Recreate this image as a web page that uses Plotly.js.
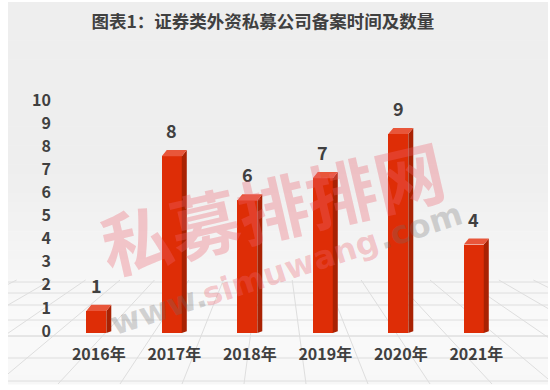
<!DOCTYPE html>
<html><head><meta charset="utf-8">
<script src="https://cdn.plot.ly/plotly-3.0.1.min.js"></script>
<style>html,body{margin:0;padding:0;background:#fff}#c{width:550px;height:390px}</style>
</head><body><div id="c"></div>
<script>
const categories = ["2016年","2017年","2018年","2019年","2020年","2021年"];
const counts = [1, 8, 6, 7, 9, 4];
const yTicks = [0,1,2,3,4,5,6,7,8,9,10];
const titleText = "图表1：证券类外资私募公司备案时间及数量";

const idx = categories.map((_, i) => i);
const W = 0.265, L = -0.165, DX = 0.066, DY = 0.28;
// side and top faces of pseudo-3D bars, computed from data
const sx = [], sy = [], tx = [], ty = [];
idx.forEach((i) => {
  const v = counts[i], r = i + L + W;
  sx.push(r, r + DX, r + DX, r, r, null);
  sy.push(0, DY * 0.3, v + DY, v, 0, null);
  tx.push(i + L, r, r + DX, i + L + DX, i + L, null);
  ty.push(v, v, v + DY, v + DY, v, null);
});

const traces = [
  {type:'bar', x: idx, y: counts, width: W, offset: L, marker:{color:'#de2d06'}, hoverinfo:'skip', showlegend:false},
  {type:'scatter', x: sx, y: sy, mode:'lines', fill:'toself', fillcolor:'#a92203', line:{width:0, color:'#a92203'}, hoverinfo:'skip', showlegend:false},
  {type:'scatter', x: tx, y: ty, mode:'lines', fill:'toself', fillcolor:'#e8563a', line:{width:0, color:'#e8563a'}, hoverinfo:'skip', showlegend:false},
  {type:'scatter', x: [null], y: [null], yaxis:'y2', mode:'markers', hoverinfo:'skip', showlegend:false}
];

const font = 'Noto Sans CJK SC, Noto Sans, sans-serif';
const labels = idx.map(i => ({x: i - 0.03, y: counts[i], xref:'x', yref:'y', text: String(counts[i]), showarrow:false,
  yanchor:'middle', yshift: 26, font:{family:font, size:18, color:'#404040', weight:'bold'}}));

// pixel -> paper helpers for decoration
const PL = 61, PW = 453, PB = 333, PH = 234;
const px = v => (v - PL) / PW, py = v => (PB - v) / PH;

const wmPink = 'rgba(236,100,112,0.33)', wmGray = 'rgba(110,110,110,0.28)';
const wmA = {xanchor:'center', yanchor:'middle', showarrow:false, xref:'paper', yref:'paper'};
const wm = [
  Object.assign({x:px(272), y:py(205), text:'私募排排网', textangle:-13,
   font:{family:font, size:70, color:wmPink, weight:'bold'}}, wmA),
  Object.assign({x:px(158), y:py(310), text:'www.', textangle:-18,
   font:{family:'DejaVu Sans, sans-serif', size:32, color:wmGray, weight:'bold'}}, wmA),
  Object.assign({x:px(290), y:py(268), text:'simuwang', textangle:-18,
   font:{family:'DejaVu Sans, sans-serif', size:32, color:wmPink, weight:'bold'}}, wmA),
  Object.assign({x:px(420), y:py(226), text:'.com', textangle:-18,
   font:{family:'DejaVu Sans, sans-serif', size:32, color:wmGray, weight:'bold'}}, wmA)
];

const shapes = [];
// background bands (light gray, brighter toward the floor)
const X0 = 8, X1 = 548, Y0 = 2, Y1 = 384, N = 40;
for (let k = 0; k < N; k++) {
  const a = Y0 + (Y1 - Y0) * k / N, b = Y0 + (Y1 - Y0) * (k + 1) / N, m = (a + b) / 2;
  let g = m < 170 ? 238 : (m < 330 ? 238 + 12 * (m - 170) / 160 : 250 - 3 * (m - 330) / 54);
  g = Math.round(g);
  shapes.push({type:'rect', xref:'paper', yref:'paper', x0:px(X0), x1:px(X1), y0:py(b + 0.5), y1:py(a),
    fillcolor:`rgb(${g},${g},${g})`, line:{width:0}, layer:'below'});
}
// floor grid: horizontal lines
[282, 293, 305, 320, 336, 358, 381].forEach(y => shapes.push({type:'line', xref:'paper', yref:'paper',
  x0:px(X0), x1:px(X1), y0:py(y), y1:py(y), line:{color: y === 336 ? '#d2d2d2' : '#dedede', width:1}, layer:'below'}));
// floor grid: perspective lines
const VX = 275, VY = 150, TOP = 280;
for (let xb = -500; xb <= 1050; xb += 62) {
  let xa = VX + (xb - VX) * (TOP - VY) / (Y1 - VY), ya = TOP, xe = xb, ye = Y1;
  const clip = (xl) => VY + (Y1 - VY) * (xl - VX) / (xb - VX);
  if (xe < X0) { ye = clip(X0); xe = X0; }
  if (xe > X1) { ye = clip(X1); xe = X1; }
  if (ye <= ya || xa < X0 || xa > X1) continue;
  shapes.push({type:'line', xref:'paper', yref:'paper', x0:px(xa), y0:py(ya), x1:px(xe), y1:py(ye),
    line:{color:'#dedede', width:1}, layer:'below'});
}

const layout = {
  width:550, height:390,
  margin:{l:PL, r:36, t:99, b:57},
  paper_bgcolor:'#ffffff', plot_bgcolor:'rgba(0,0,0,0)',
  title:{text:titleText, x:0.478, xanchor:'center', y:0.943, yanchor:'middle',
    font:{family:font, size:17.5, color:'#404040', weight:'bold'}},
  xaxis:{range:[-0.5,5.5], tickvals: idx, ticktext: categories, showgrid:false, zeroline:false, showline:false,
    ticks:'', ticklabelstandoff:10, tickfont:{family:font, size:16, color:'#404040', weight:'bold'}, fixedrange:true},
  yaxis:{range:[0, 234/22.1], visible:false, fixedrange:true},
  yaxis2:{overlaying:'y', side:'left', range:[-2/23.1, 10 + 1/23.1], tickvals: yTicks, ticktext: yTicks.map(String),
    showgrid:false, zeroline:false, showline:false, ticks:'', ticklabelstandoff:9,
    tickfont:{family:font, size:16, color:'#404040', weight:'bold'}, fixedrange:true},
  annotations: labels.concat(wm),
  shapes: shapes,
  bargap:0
};
Plotly.newPlot('c', traces, layout, {displayModeBar:false, staticPlot:true});
</script></body></html>
